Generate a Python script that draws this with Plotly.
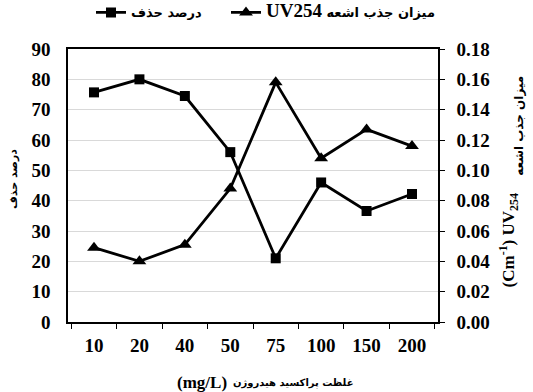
import plotly.graph_objects as go

categories = ["10", "20", "40", "50", "75", "100", "150", "200"]
removal_pct = [75.7, 80.0, 74.5, 56.0, 21.0, 46.0, 36.6, 42.2]
uv254_abs = [0.049, 0.040, 0.051, 0.088, 0.158, 0.108, 0.127, 0.116]

left_ticks = list(range(0, 91, 10))
right_ticks = [i * 0.02 for i in range(10)]
right_tick_text = ["%.2f" % v for v in right_ticks]

serif = "Liberation Serif"
fa = "DejaVu Sans"

name_removal = "درصد حذف"
name_uv = ('<span style="font-family:Liberation Serif;font-size:19px">UV254</span>'
           ' میزان جذب اشعه')
x_title_unit = "(mg/L)"
x_title_fa = "غلظت پراکسید هیدروژن"
y_title = "درصد حذف"
y2_title_a = "میزان جذب اشعه"
y2_title_b = "(Cm<sup>-1</sup>) UV<sub>254</sub>"

tick_font = dict(family=serif, size=19, color="black", weight="bold")
leg_font = dict(family=fa, size=13, color="black", weight="bold")

fig = go.Figure()
fig.add_trace(go.Scatter(
    x=categories, y=removal_pct, name=name_removal, mode="lines+markers",
    line=dict(color="black", width=2.8),
    marker=dict(symbol="square", size=10, color="black"),
    yaxis="y", legend="legend"))
fig.add_trace(go.Scatter(
    x=categories, y=uv254_abs, name=name_uv, mode="lines+markers",
    line=dict(color="black", width=2.8),
    marker=dict(symbol="triangle-up", size=12, color="black"),
    yaxis="y2", legend="legend2"))

fig.update_layout(
    width=533, height=392,
    margin=dict(l=68, r=95, t=49, b=70, autoexpand=False),
    paper_bgcolor="white", plot_bgcolor="white",
    showlegend=True,
    legend=dict(orientation="h", x=91 / 533, xanchor="left", xref="container",
                y=0.93, yanchor="bottom", yref="container",
                font=leg_font, itemwidth=30),
    legend2=dict(orientation="h", x=226 / 533, xanchor="left", xref="container",
                 y=0.93, yanchor="bottom", yref="container",
                 font=leg_font, itemwidth=30),
    xaxis=dict(
        type="category", tickson="boundaries", ticks="outside", ticklen=5,
        tickcolor="black", linecolor="black", linewidth=1.5, showline=True,
        mirror=True, showgrid=False, ticklabelstandoff=5,
        tickfont=tick_font,
    ),
    yaxis=dict(
        range=[0, 90], tickvals=left_ticks, ticks="", showline=True,
        linecolor="black", linewidth=1.5, showgrid=True, gridcolor="#d9d9d9",
        gridwidth=1, zeroline=False, ticklabelstandoff=12,
        tickfont=tick_font,
    ),
    yaxis2=dict(
        range=[0, 0.18], tickvals=right_ticks, ticktext=right_tick_text,
        overlaying="y", side="right", ticks="outside", ticklen=5, tickcolor="black",
        showline=True, linecolor="black", linewidth=1.5, showgrid=False, zeroline=False,
        ticklabelstandoff=8,
        tickfont=tick_font,
    ),
)

fig.add_annotation(text=x_title_unit, xref="paper", yref="paper", x=(229 - 68) / 370,
                   y=-0.22, showarrow=False, xanchor="right", yanchor="middle",
                   font=dict(family=serif, size=17, color="black", weight="bold"))
fig.add_annotation(text=x_title_fa, xref="paper", yref="paper", x=(231 - 68) / 370,
                   y=-0.225, showarrow=False, xanchor="left", yanchor="middle",
                   font=dict(family=fa, size=10, color="black", weight="bold"))
fig.add_annotation(text=y_title, xref="paper", yref="paper", x=-0.148, y=0.525,
                   textangle=-90, showarrow=False, xanchor="center", yanchor="middle",
                   font=dict(family=fa, size=11, color="black", weight="bold"))
fig.add_annotation(text=y2_title_a, xref="paper", yref="paper", x=1.22, y=0.72,
                   textangle=-90, showarrow=False, xanchor="center", yanchor="middle",
                   font=dict(family=fa, size=12, color="black", weight="bold"))
fig.add_annotation(text=y2_title_b, xref="paper", yref="paper", x=1.19, y=0.30,
                   textangle=-90, showarrow=False, xanchor="center", yanchor="middle",
                   font=dict(family=serif, size=17, color="black", weight="bold"))

fig.write_html("out.html")
